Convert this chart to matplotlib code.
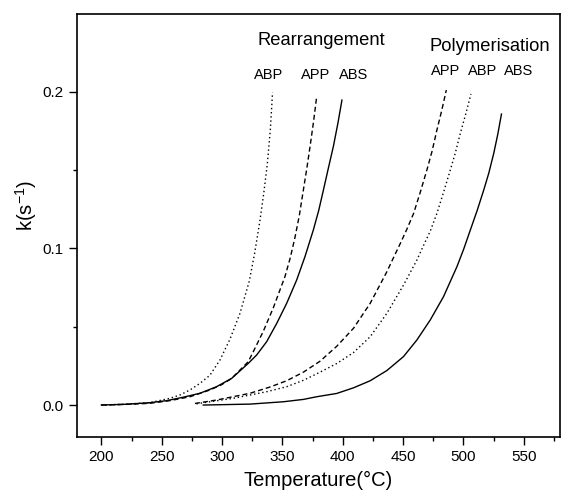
import matplotlib
matplotlib.use("Agg")
import matplotlib.pyplot as plt
from matplotlib.ticker import MultipleLocator, FormatStrFormatter

plt.rcParams['font.family'] = ['Liberation Sans', 'DejaVu Sans']
plt.rcParams['mathtext.fontset'] = 'custom'
plt.rcParams['mathtext.rm'] = 'Liberation Sans'
plt.rcParams['mathtext.it'] = 'Liberation Sans'

# ---- Rearrangement ----
rear_abp_T = [200, 220, 240, 256.7, 265, 273.3, 281.6, 289.9, 298.2, 306.5, 314.8, 322.5, 327, 331.4, 334.5, 337.5, 340, 341.8]
rear_abp_k = [0.0, 0.0005, 0.0015, 0.0043, 0.0064, 0.0096, 0.0138, 0.019, 0.0287, 0.042, 0.0585, 0.079, 0.097, 0.118, 0.135, 0.154, 0.176, 0.1995]

rear_app_T = [200, 220, 240, 256.7, 273.3, 289.9, 299.6, 307.9, 321.7, 325.8, 334.1, 342.4, 352.1, 356.5, 360.4, 364, 367.3, 370.2, 372.9, 375.8, 378.4]
rear_app_k = [0.0, 0.0004, 0.0011, 0.0028, 0.0053, 0.0096, 0.013, 0.017, 0.0277, 0.034, 0.047, 0.062, 0.082, 0.094, 0.107, 0.121, 0.137, 0.151, 0.165, 0.181, 0.197]

rear_abs_T = [200, 220, 240, 254, 267.8, 281.6, 295.4, 307.9, 321.7, 328.6, 336.9, 345.2, 353.5, 361.8, 368.8, 375.6, 380, 383.9, 388, 392.2, 396, 399.3]
rear_abs_k = [0.0, 0.0005, 0.0015, 0.0028, 0.005, 0.0075, 0.0117, 0.017, 0.0266, 0.0319, 0.0404, 0.052, 0.0649, 0.0798, 0.095, 0.1117, 0.124, 0.137, 0.151, 0.165, 0.18, 0.1946]

# ---- Polymerisation ----
poly_app_T = [277.5, 295.4, 323.1, 339.7, 353.5, 367.4, 381.2, 395.0, 408.9, 422.7, 436.5, 442, 447.6, 453, 458.7, 464.3, 469.7, 474, 478.0, 482, 485.8]
poly_app_k = [0.001, 0.0032, 0.0075, 0.0115, 0.0155, 0.021, 0.028, 0.0375, 0.049, 0.0649, 0.085, 0.094, 0.103, 0.112, 0.1223, 0.136, 0.15, 0.162, 0.1755, 0.188, 0.201]

poly_abp_T = [278.8, 309.2, 336.9, 353.5, 367.4, 381.2, 395.0, 408.9, 422.7, 436.5, 450.3, 461.4, 467.0, 472.5, 478.0, 483.6, 489.1, 493.3, 497.4, 502, 506.2]
poly_abp_k = [0.0008, 0.0043, 0.0085, 0.0117, 0.0158, 0.021, 0.0265, 0.0335, 0.0436, 0.0585, 0.0765, 0.0925, 0.102, 0.111, 0.1223, 0.136, 0.15, 0.161, 0.1734, 0.186, 0.1985]

poly_abs_T = [284.4, 323.1, 350.8, 367.4, 378.4, 395.0, 408.9, 422.7, 436.5, 450.3, 461.4, 472.5, 483.5, 494.6, 500.2, 505.7, 511.3, 516.8, 521, 525.1, 528.5, 531.5]
poly_abs_k = [0.0, 0.0006, 0.0021, 0.0036, 0.0053, 0.0074, 0.011, 0.0155, 0.022, 0.0309, 0.0415, 0.0543, 0.0692, 0.0883, 0.0995, 0.1117, 0.124, 0.1372, 0.148, 0.1606, 0.173, 0.1857]

x_ticks = [200, 250, 300, 350, 400, 450, 500, 550]
y_ticks = [0.0, 0.1, 0.2]

group_labels = ["Rearrangement", "Polymerisation"]
rear_names = ["ABP", "APP", "ABS"]
poly_names = ["APP", "ABP", "ABS"]

fig = plt.figure(figsize=(5.61, 4.92), dpi=100)
ax = fig.add_axes([0.1367, 0.1124, 0.8615, 0.859])

dotted = (0, (1, 2))
dashed = (0, (3.6, 2.2))
lw = 1.0
ax.plot(rear_abp_T, rear_abp_k, color='black', lw=lw, linestyle=dotted)
ax.plot(rear_app_T, rear_app_k, color='black', lw=lw, linestyle=dashed)
ax.plot(rear_abs_T, rear_abs_k, color='black', lw=lw, linestyle='-')
ax.plot(poly_app_T, poly_app_k, color='black', lw=lw, linestyle=dashed)
ax.plot(poly_abp_T, poly_abp_k, color='black', lw=lw, linestyle=dotted)
ax.plot(poly_abs_T, poly_abs_k, color='black', lw=lw, linestyle='-')

ax.set_xlim(179.5, 580)
ax.set_ylim(-0.0202, 0.2495)

ax.set_xticks(x_ticks)
ax.set_yticks(y_ticks)
ax.xaxis.set_minor_locator(MultipleLocator(25))
ax.yaxis.set_minor_locator(MultipleLocator(0.05))
ax.yaxis.set_major_formatter(FormatStrFormatter('%.1f'))
ax.tick_params(which='major', direction='out', length=5.5, width=1.0, labelsize=11, pad=4,
               top=False, right=False)
ax.tick_params(which='minor', direction='out', length=3, width=1.0, top=False, right=False)
for s in ax.spines.values():
    s.set_linewidth(1.2)

ax.set_xlabel('Temperature(°C)', fontsize=14.5, labelpad=5)
ax.set_ylabel(r'k(s$^{-1}$)', fontsize=14.5)
ax.yaxis.set_label_coords(-0.078, 0.547)

ax.text(381.8, 0.2325, group_labels[0], fontsize=13.2, ha='center', va='center')
ax.text(522.2, 0.2291, group_labels[1], fontsize=13.2, ha='center', va='center')

for name, t in zip(rear_names, [338.3, 377.4, 408.9]):
    ax.text(t, 0.2103, name, fontsize=10.5, ha='center', va='center')
for name, t in zip(poly_names, [485.6, 516.0, 545.7]):
    ax.text(t, 0.2131, name, fontsize=10.5, ha='center', va='center')

fig.savefig('out.png', dpi=100)
